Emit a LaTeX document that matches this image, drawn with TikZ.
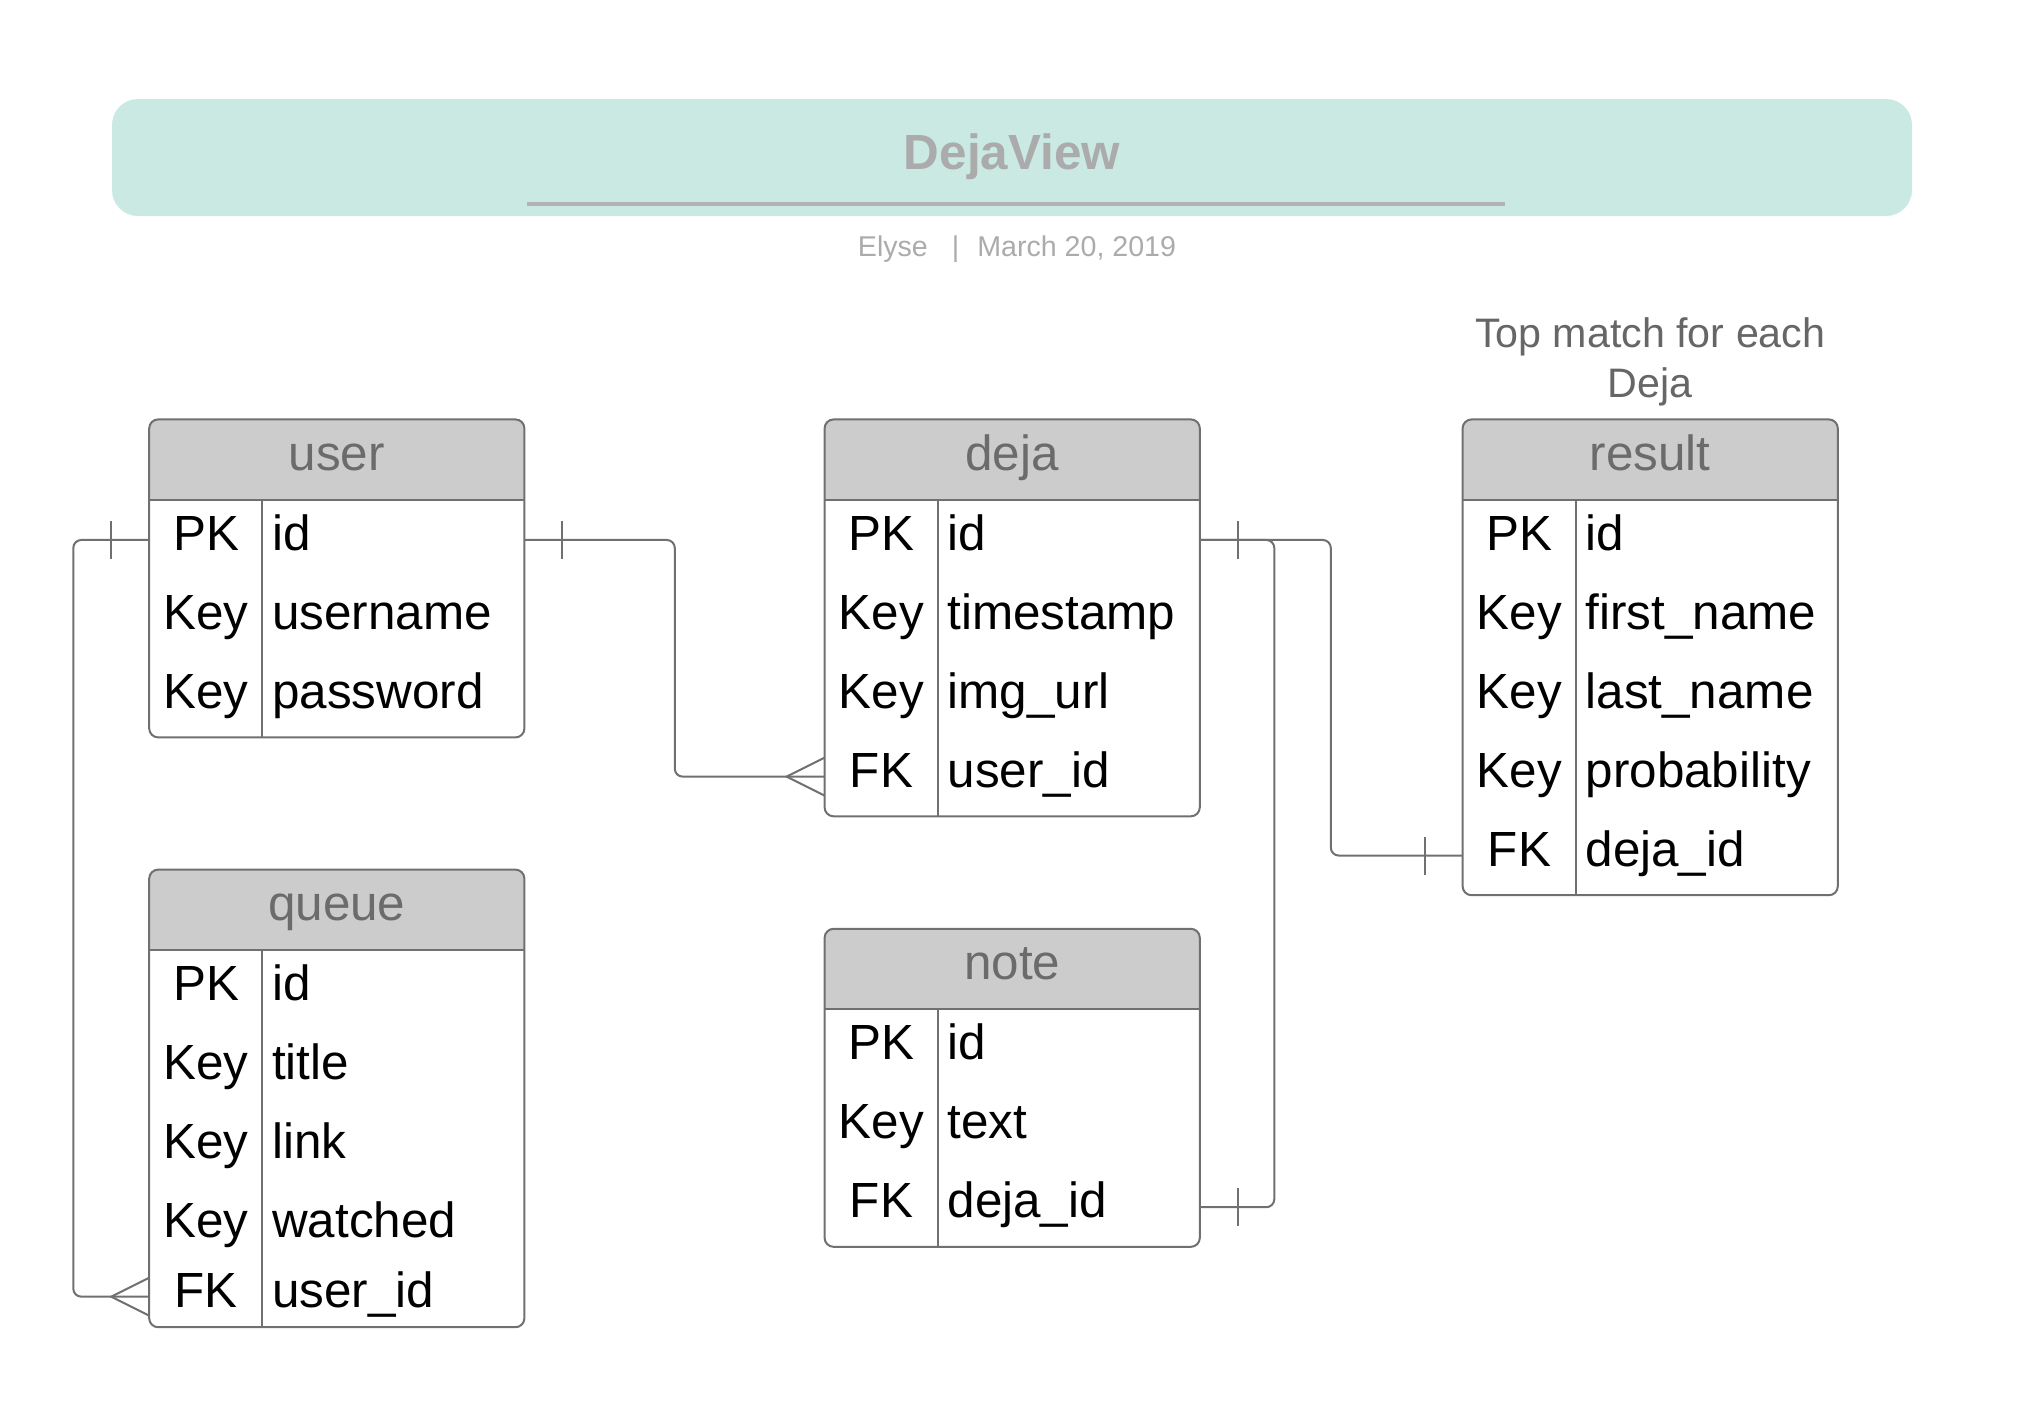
\documentclass[tikz,border=0pt]{standalone}
\usepackage{fontspec}
\setmainfont{Liberation Sans}
\usetikzlibrary{positioning, decorations.markings}

\definecolor{mint}{HTML}{C9E9E2}
\definecolor{titlegray}{HTML}{ABABAB}
\definecolor{rulegray}{HTML}{B3B3B3}
\definecolor{headfill}{HTML}{CCCCCC}
\definecolor{headtext}{HTML}{6B6B6B}
\definecolor{linegray}{HTML}{707070}
\definecolor{notegray}{HTML}{666666}

\tikzset{
    rowfont/.style={font=\fontsize{24.7pt}{30pt}\selectfont, text height=17.8pt, text depth=7.2pt},
    hdr/.style={rowfont, fill=headfill, text=headtext, minimum width=187.2pt, minimum height=39.85pt, inner sep=0pt},
    keycell/.style={rowfont, minimum width=56.5pt, minimum height=39.25pt, inner sep=0pt},
    namecell/.style={rowfont, text width=121.1pt, align=left, inner xsep=4.8pt, inner ysep=0pt, minimum height=39.25pt},
    tbl/.style={inner sep=0pt, column sep=0pt, row sep=0pt},
    frame/.style={draw=linegray, line width=1pt},
    conn/.style={color=linegray, line width=1pt, rounded corners=4pt},
    onefrom/.style={postaction={decorate, decoration={markings,
        mark=at position 19pt with {\draw[linegray, line width=1pt] (0,-9.5pt) -- (0,9.5pt);}}}},
    oneto/.style={postaction={decorate, decoration={markings,
        mark=at position -19pt with {\draw[linegray, line width=1pt] (0,-9.5pt) -- (0,9.5pt);}}}},
    manyto/.style={postaction={decorate, decoration={markings,
        mark=at position 1 with {\draw[linegray, line width=1pt, sharp corners] (0,9.5pt) -- (-19pt,0) -- (0,-9.5pt);}}}}
}

\begin{document}
\begin{tikzpicture}[x=0.5pt, y=-0.5pt]
    \useasboundingbox (0,0) rectangle (2017,1426);

    % title band
    \node (band) [fill=mint, rounded corners=13pt, minimum width=900pt, minimum height=58.5pt, inner sep=0pt] at (1012,157.5) {};
    \node (title) [anchor=base, text=titlegray, font=\bfseries\fontsize{24.7pt}{30pt}\selectfont] at (1012,169.3) {DejaView};
    \draw[rulegray, line width=1.7pt] (527,204) -- (1505,204);
    \node (byline) [anchor=base, text=titlegray, font=\fontsize{14.3pt}{17pt}\selectfont] at (1017,256.7) {Elyse\hspace{12pt}|\hspace{9pt}March 20, 2019};

    % tables
    \node (user) [hdr, anchor=north west] at (149.2,419.4) {user};
    \matrix (user-body) [tbl, below=0pt of user] {
        \node (user-pk) [keycell] {PK};  & \node (user-id) [namecell] {id}; \\
        \node (user-k1) [keycell] {Key}; & \node (user-username) [namecell] {username}; \\
        \node (user-k2) [keycell] {Key}; & \node (user-password) [namecell] {password}; \\
    };

    \node (queue) [hdr, anchor=north west] at (149.2,869.6) {queue};
    \matrix (queue-body) [tbl, below=0pt of queue] {
        \node (queue-pk) [keycell] {PK};  & \node (queue-id) [namecell] {id}; \\
        \node (queue-k1) [keycell] {Key}; & \node (queue-title) [namecell] {title}; \\
        \node (queue-k2) [keycell] {Key}; & \node (queue-link) [namecell] {link}; \\
        \node (queue-k3) [keycell] {Key}; & \node (queue-watched) [namecell] {watched}; \\
        \node (queue-fk) [keycell, minimum height=30.15pt] {FK}; & \node (queue-uid) [namecell, minimum height=30.15pt] {user\_id}; \\
    };

    \node (deja) [hdr, anchor=north west] at (824.6,419.4) {deja};
    \matrix (deja-body) [tbl, below=0pt of deja] {
        \node (deja-pk) [keycell] {PK};  & \node (deja-id) [namecell] {id}; \\
        \node (deja-k1) [keycell] {Key}; & \node (deja-timestamp) [namecell] {timestamp}; \\
        \node (deja-k2) [keycell] {Key}; & \node (deja-imgurl) [namecell] {img\_url}; \\
        \node (deja-fk) [keycell] {FK};  & \node (deja-uid) [namecell] {user\_id}; \\
    };

    \node (note) [hdr, anchor=north west] at (824.6,928.8) {note};
    \matrix (note-body) [tbl, below=0pt of note] {
        \node (note-pk) [keycell] {PK};  & \node (note-id) [namecell] {id}; \\
        \node (note-k1) [keycell] {Key}; & \node (note-text) [namecell] {text}; \\
        \node (note-fk) [keycell] {FK};  & \node (note-did) [namecell] {deja\_id}; \\
    };

    \node (result) [hdr, anchor=north west] at (1462.6,419.4) {result};
    \matrix (result-body) [tbl, below=0pt of result] {
        \node (result-pk) [keycell] {PK};  & \node (result-id) [namecell] {id}; \\
        \node (result-k1) [keycell] {Key}; & \node (result-first) [namecell] {first\_name}; \\
        \node (result-k2) [keycell] {Key}; & \node (result-last) [namecell] {last\_name}; \\
        \node (result-k3) [keycell] {Key}; & \node (result-prob) [namecell] {probability}; \\
        \node (result-fk) [keycell] {FK};  & \node (result-did) [namecell] {deja\_id}; \\
    };

    \node (result-note) [above=6.3pt of result, inner sep=0pt, align=center, text=notegray, font=\fontsize{20.6pt}{25.3pt}\selectfont] {Top match for each\\Deja};

    % frames: trim header corners, outline, key column
    \foreach \t in {user, queue, deja, note, result} {
        \fill[white, even odd rule] (\t.north west) rectangle (\t-body.south east)
            [rounded corners=4.5pt] (\t.north west) rectangle (\t-body.south east);
        \draw[frame, rounded corners=4.5pt] (\t.north west) rectangle (\t-body.south east);
        \draw[frame] (\t.south west) -- (\t.south east);
        \draw[frame] ([xshift=56.5pt]\t-body.north west) -- ([xshift=56.5pt]\t-body.south west);
    }

    % relations
    \draw[conn, onefrom, manyto] (user-pk.west) -- ++(-75.9,0) |- (queue-fk.west);
    \draw[conn, onefrom, manyto] (user-id.east) -- ++(150.4,0) |- (deja-fk.west);
    \draw[conn, onefrom, oneto] (deja-id.east) -- ++(74.5,0) |- (note-did.east);
    \draw[conn, onefrom, oneto] (deja-id.east) -- ++(131,0) |- (result-fk.west);
\end{tikzpicture}
\end{document}
